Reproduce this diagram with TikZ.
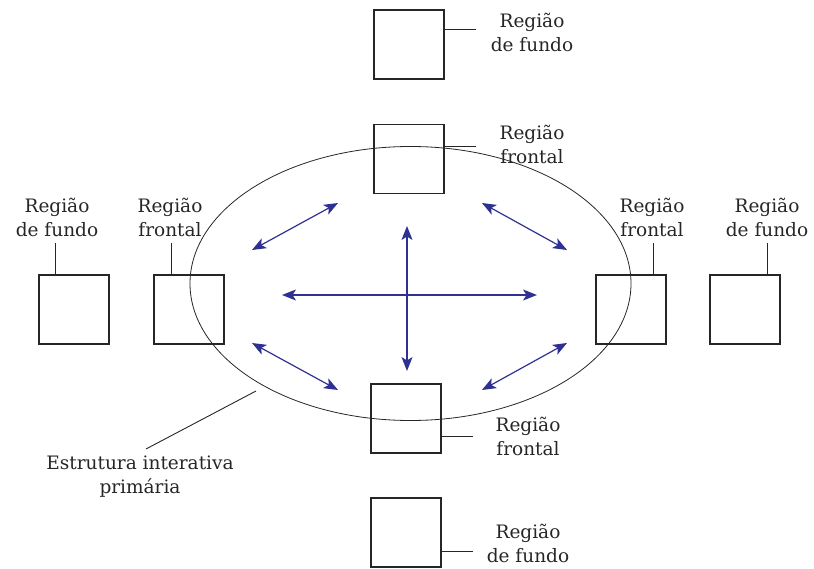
\documentclass[tikz,border=0pt]{standalone}
\usepackage{fontspec}
\setmainfont{DejaVu Serif}
\usetikzlibrary{arrows.meta}
\definecolor{arrblue}{HTML}{2E3192}
\tikzset{
  region/.style={draw=black!85, line width=1.6pt, minimum width=70pt, minimum height=69pt, inner sep=0pt, outer sep=0pt},
  lbl/.style={font=\fontsize{18.5}{24}\selectfont, align=center, text=black!85, inner sep=0pt},
  leader/.style={draw=black!85, line width=0.9pt},
  dbl/.style={draw=arrblue, line width=1.2pt, {Stealth[length=14pt,width=11pt,inset=3.5pt]}-{Stealth[length=14pt,width=11pt,inset=3.5pt]}}
}
\begin{document}
\begin{tikzpicture}[x=1pt,y=-1pt]
\useasboundingbox (0,0) rectangle (814,569);
% ellipse
\draw[black!85, line width=0.8pt] (410.5,283.5) ellipse [x radius=220.5, y radius=137];
\coordinate (ellpt) at (256,391);
% boxes
\node[region] (tf) at (409,44.5) {};
\node[region] (tfr) at (409,159) {};
\node[region] (lf) at (74,309.5) {};
\node[region] (lfr) at (189,309.5) {};
\node[region] (rfr) at (631,309.5) {};
\node[region] (rf) at (745,309.5) {};
\node[region] (bfr) at (406,418.5) {};
\node[region] (bf) at (406,532.5) {};
% labels
\node[lbl] (Ltf) at (532,32) {Região\\de fundo};
\node[lbl] (Ltfr) at (532,144) {Região\\frontal};
\node[lbl] (Llf) at (57,217) {Região\\de fundo};
\node[lbl] (Llfr) at (170,217) {Região\\frontal};
\node[lbl] (Lrfr) at (652,217) {Região\\frontal};
\node[lbl] (Lrf) at (767,217) {Região\\de fundo};
\node[lbl] (Lbfr) at (528,436) {Região\\frontal};
\node[lbl] (Lbf) at (528,543) {Região\\de fundo};
\node[lbl] (Lest) at (140,477) {Estrutura interativa\\primária};
% leaders
\coordinate (c1) at (476,29);
\draw[leader] (tf.east |- c1) -- (c1);
\coordinate (c2) at (476,146);
\draw[leader] (tfr.east |- c2) -- (c2);
\coordinate (c3) at (55,243);
\draw[leader] (c3) -- (c3 |- lf.north);
\coordinate (c4) at (171,243);
\draw[leader] (c4) -- (c4 |- lfr.north);
\coordinate (c5) at (653,243);
\draw[leader] (c5) -- (c5 |- rfr.north);
\coordinate (c6) at (767,243);
\draw[leader] (c6) -- (c6 |- rf.north);
\coordinate (c7) at (473,436);
\draw[leader] (bfr.east |- c7) -- (c7);
\coordinate (c8) at (473,551);
\draw[leader] (bf.east |- c8) -- (c8);
\coordinate (c9) at (146,449);
\draw[leader] (ellpt) -- (c9);
% arrows
\coordinate (h1) at (282,295); \coordinate (h2) at (537,295);
\coordinate (v1) at (407,226); \coordinate (v2) at (407,371);
\coordinate (a1) at (252,250); \coordinate (a2) at (338,203);
\coordinate (b1) at (482,203); \coordinate (b2) at (567,250);
\coordinate (d1) at (252,343); \coordinate (d2) at (338,390);
\coordinate (e1) at (482,390); \coordinate (e2) at (567,343);
\draw[dbl] (h1) -- (h2);
\draw[dbl] (v1) -- (v2);
\draw[dbl] (a1) -- (a2);
\draw[dbl] (b1) -- (b2);
\draw[dbl] (d1) -- (d2);
\draw[dbl] (e1) -- (e2);
\end{tikzpicture}
\end{document}
